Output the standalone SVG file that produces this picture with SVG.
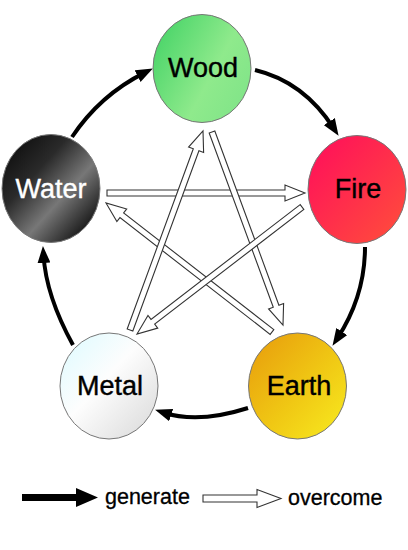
<svg xmlns="http://www.w3.org/2000/svg" width="408" height="550" viewBox="0 0 408 550">
<style>
.gen{fill:none;stroke:#000;stroke-width:4;marker-end:url(#head)}
.ovc{fill:#fff;stroke:#333;stroke-width:1.1;stroke-linejoin:miter}
.node{stroke:#777;stroke-width:1}
.lbl{font-family:"Liberation Sans",Arial,sans-serif;font-size:27px;text-anchor:middle;stroke-width:0.4}
.leg{font-family:"Liberation Sans",Arial,sans-serif;font-size:21.5px;stroke:#000;stroke-width:0.3}
</style>
<defs>
<marker id="head" viewBox="0 0 17 13" markerWidth="17" markerHeight="13" markerUnits="userSpaceOnUse" refX="8" refY="6.5" orient="auto">
<path d="M0,0 L17,6.5 L0,13 z" fill="#000"/>
</marker>
<linearGradient id="gWood" x1="0" y1="0.2" x2="1" y2="0.8">
<stop offset="0" stop-color="#48d468"/><stop offset="0.6" stop-color="#8fea8c"/><stop offset="1" stop-color="#80e488"/>
</linearGradient>
<linearGradient id="gWater" x1="0" y1="0" x2="1" y2="1">
<stop offset="0" stop-color="#050505"/><stop offset="0.35" stop-color="#2a2a2a"/><stop offset="0.6" stop-color="#777"/><stop offset="0.85" stop-color="#202020"/><stop offset="1" stop-color="#111"/>
</linearGradient>
<linearGradient id="gFire" x1="0" y1="0" x2="1" y2="1">
<stop offset="0" stop-color="#ff0c5c"/><stop offset="1" stop-color="#ff503a"/>
</linearGradient>
<linearGradient id="gMetal" x1="0" y1="0" x2="1" y2="1">
<stop offset="0" stop-color="#dcfbff"/><stop offset="0.45" stop-color="#fdfdfd"/><stop offset="1" stop-color="#d8d8d8"/>
</linearGradient>
<linearGradient id="gEarth" x1="0" y1="0" x2="1" y2="1">
<stop offset="0" stop-color="#e79a0c"/><stop offset="0.55" stop-color="#f0c814"/><stop offset="1" stop-color="#f8ec20"/>
</linearGradient>
</defs>
<rect width="408" height="550" fill="#fff"/>
<g id="connectors">
<path class="gen" d="M72,137 Q100,95 144.8,72.6"/>
<path class="gen" d="M255,70 Q303.5,81.5 333.7,128.3"/>
<path class="gen" d="M365,247 Q365,296 337.4,338.3"/>
<path class="gen" d="M248,408 Q198,424 163.6,412.5"/>
<path class="gen" d="M73,345 Q46,296 43.5,255"/>
<polygon class="ovc" points="107,196 285,196 285,201 305,193 285,185 285,190 107,190"/>
<polygon class="ovc" points="209.18,133.04 273.28,307.26 268.58,308.99 283,325 283.6,303.47 278.91,305.19 214.82,130.96"/>
<polygon class="ovc" points="273.84,329.63 123.63,212.9 126.7,208.96 106,203 116.88,221.59 119.95,217.64 270.16,334.37"/>
<polygon class="ovc" points="300.17,204.62 151.02,319.42 147.97,315.46 137,334 157.73,328.14 154.68,324.18 303.83,209.38"/>
<polygon class="ovc" points="132.82,331.03 198.93,150.8 203.62,152.53 203,131 188.6,147.02 193.3,148.74 127.18,328.97"/>
</g>
<g id="wood"><ellipse class="node" cx="202" cy="68.5" rx="49" ry="54" fill="url(#gWood)"/><text class="lbl" x="203" y="77" fill="#000" stroke="#000">Wood</text></g>
<g id="fire"><ellipse class="node" cx="357" cy="189.5" rx="49" ry="54" fill="url(#gFire)"/><text class="lbl" x="358" y="198" fill="#000" stroke="#000">Fire</text></g>
<g id="earth"><ellipse class="node" cx="297.5" cy="386" rx="49" ry="53" fill="url(#gEarth)"/><text class="lbl" x="299" y="395" fill="#000" stroke="#000">Earth</text></g>
<g id="metal"><ellipse class="node" cx="109" cy="386" rx="49" ry="53" fill="url(#gMetal)"/><text class="lbl" x="110" y="395" fill="#000" stroke="#000">Metal</text></g>
<g id="water"><ellipse class="node" cx="51" cy="188.5" rx="49" ry="54" fill="url(#gWater)"/><text class="lbl" x="51" y="198" fill="#fff" stroke="#fff">Water</text></g>
<g id="legend">
<polygon points="22,494 76,494 76,488 98,497.5 76,507 76,501 22,501" fill="#000"/>
<text class="leg" x="105" y="504" fill="#000">generate</text>
<polygon class="ovc" points="203,502 257,502 257,507.5 281,498.5 257,489.5 257,495 203,495"/>
<text class="leg" x="288" y="505" fill="#000">overcome</text>
</g>
</svg>
